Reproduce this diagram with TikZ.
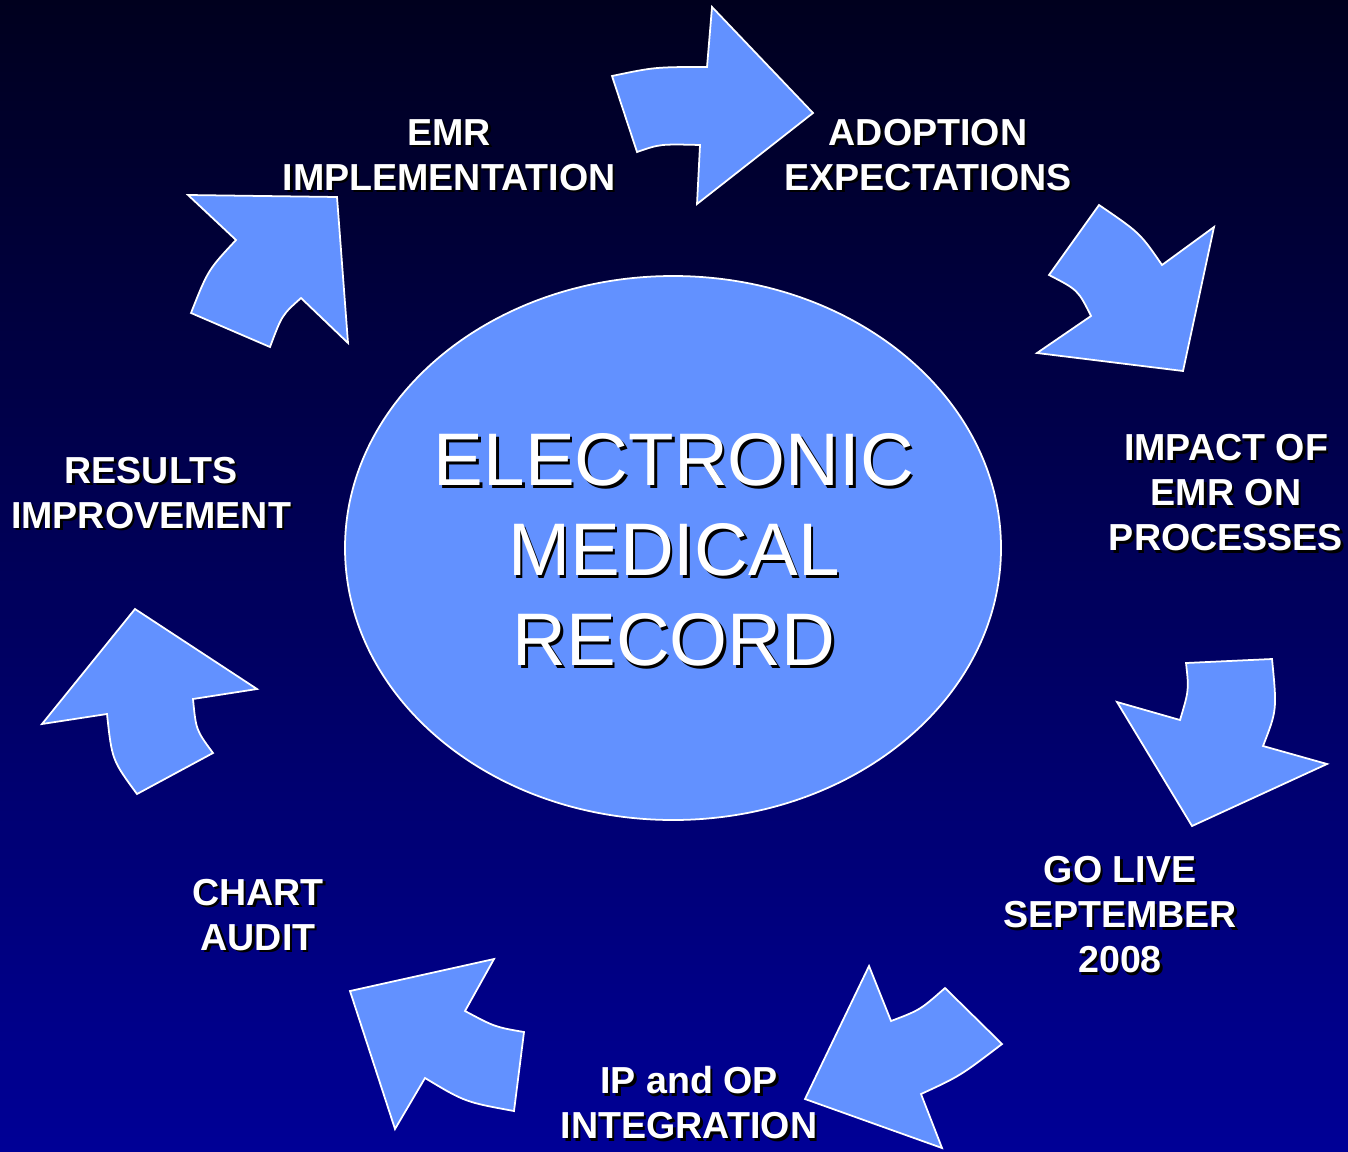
\documentclass[tikz,border=0pt]{standalone}
\usepackage{fontspec}
\setmainfont{Liberation Sans}
\usetikzlibrary{shapes.geometric}
\definecolor{emrblue}{RGB}{98,145,255}
\definecolor{bgtop}{RGB}{0,0,30}
\definecolor{bgbottom}{RGB}{0,0,150}
\newcommand{\shadownode}[4]{%
  \node[#1, text=black] at ([shift={(2.5,2.5)}]#3) {#4};
  \node[#1] (#2) at (#3) {#4};
}
\begin{document}
\begin{tikzpicture}[
    x=0.1mm, y=-0.1mm,
    lbl/.style={font=\fontsize{10.7}{12.8}\selectfont\bfseries, text=white, align=center, inner sep=0pt},
    hubtext/.style={font=\fontsize{21.2}{25.6}\selectfont, text=white, align=center, inner sep=0pt},
    hub/.style={ellipse, draw=white, line width=0.5pt, fill=emrblue, minimum width=65.6mm, minimum height=54.4mm, inner sep=0pt},
    blockarrow/.style={draw=white, line width=0.5pt, fill=emrblue, line join=miter}
]
    \shade[top color=bgtop, bottom color=bgbottom] (0,0) rectangle (1348,1151);
    \useasboundingbox (0,0) rectangle (1348,1151);

    \node[hub] (emr) at (673,548) {};
    \shadownode{hubtext}{emrtext}{674,550}{ELECTRONIC\\MEDICAL\\RECORD}

    \draw[blockarrow] (612,76) .. controls (655,67) .. (707,67) -- (712,7) -- (813,113) -- (697,204) -- (700,145) .. controls (660,144) .. (637,152) -- cycle;
    \draw[blockarrow] (1099,205) .. controls (1140,233) .. (1162,265) -- (1214,227) -- (1183,371) -- (1037,353) -- (1091,316) .. controls (1078,290) .. (1049,275) -- cycle;
    \draw[blockarrow] (1186,663) -- (1272,659) .. controls (1277,710) .. (1263,746) -- (1327,764) -- (1192,826) -- (1117,702) -- (1180,720) .. controls (1189,690) .. (1186,663) -- cycle;
    \draw[blockarrow] (869,966) -- (891,1021) .. controls (920,1010) .. (945,988) -- (1002,1044) .. controls (960,1076) .. (921,1094) -- (942,1148) -- (805,1099) -- cycle;
    \draw[blockarrow] (494,959) -- (465,1011) .. controls (495,1027) .. (524,1032) -- (514,1111) .. controls (465,1102) .. (425,1078) -- (395,1129) -- (350,991) -- cycle;
    \draw[blockarrow] (135,609) -- (257,689) -- (193,699) .. controls (196,730) .. (213,753) -- (137,794) .. controls (112,760) .. (107,714) -- (42,724) -- cycle;
    \draw[blockarrow] (188,195) -- (337,197) -- (348,343) -- (301,298) .. controls (282,315) .. (270,347) -- (191,313) .. controls (208,270) .. (236,240) -- cycle;

    \shadownode{lbl}{impl}{449,155}{EMR\\IMPLEMENTATION}
    \shadownode{lbl}{adopt}{928,155}{ADOPTION\\EXPECTATIONS}
    \shadownode{lbl}{impact}{1226,493}{IMPACT OF\\EMR ON\\PROCESSES}
    \shadownode{lbl}{golive}{1120,915}{GO LIVE\\SEPTEMBER\\2008}
    \shadownode{lbl}{integ}{689,1103}{IP and OP\\INTEGRATION}
    \shadownode{lbl}{chart}{258,915}{CHART\\AUDIT}
    \shadownode{lbl}{results}{151,493}{RESULTS\\IMPROVEMENT}
\end{tikzpicture}
\end{document}
